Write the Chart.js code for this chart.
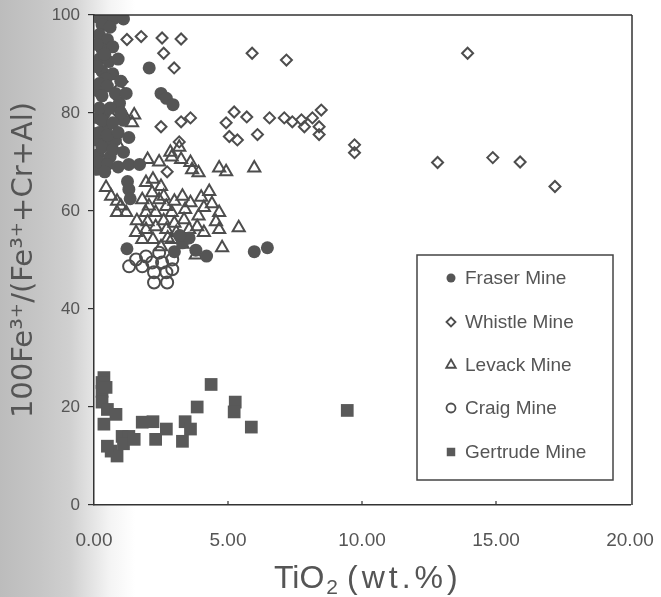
<!DOCTYPE html>
<html>
<head>
<meta charset="utf-8">
<script src="https://cdn.jsdelivr.net/npm/chart.js@4.4.1/dist/chart.umd.min.js"></script>
<style>
  html, body { margin:0; padding:0; }
  body {
    width:661px; height:597px; overflow:hidden;
    background: linear-gradient(90deg, #bcbcbc 0px, #c6c6c6 40px, #d0d0d0 70px, #e2e2e2 90px, #f4f4f4 110px, #ffffff 135px);
  }
  canvas { display:block; }
</style>
</head>
<body>
<canvas id="c" width="661" height="597" style="width:661px;height:597px"></canvas>
<script>
// ---- data (TiO2 wt.%, 100Fe3+/(Fe3++Cr+Al)) ----
const seriesNames = ['Fraser Mine', 'Whistle Mine', 'Levack Mine', 'Craig Mine', 'Gertrude Mine'];
const xTickValues = [0, 5, 10, 15, 20];
const yTickValues = [0, 20, 40, 60, 80, 100];
const xTitleParts = ['TiO', '2', '(wt.%)'];
const yTitle = '100Fe³⁺/(Fe³⁺+Cr+Al)';

const fraser = [
  [0.15,99.5],[0.45,99.5],[0.75,99.3],[1.1,99.2],[0.3,98],[0.6,97.5],
  [0.2,96],[0.5,95],[0.3,93],[0.7,93.5],[0.2,91],[0.55,90.5],[0.9,91],[0.3,88.5],[0.7,88],
  [0.1,94],[0.1,89.5],[0.4,92],[0.45,87],[0.15,84.5],[0.4,80],[0.15,79],[0.45,77],[0.1,74.5],
  [0.45,74],[0.15,71.5],[0.6,71],[0.1,68.5],[0.8,74.5],[0.95,82],[1.1,78.5],
  [0.2,86],[0.5,85.5],[1.0,86.5],[0.3,83.5],[0.8,84],[1.2,84],[0.2,81],[0.6,81],[1.0,80],
  [0.3,78.5],[0.7,78],[0.2,76],[0.5,75.5],[0.9,76],[1.3,75],[0.3,73],[0.7,72.5],[1.1,72],
  [0.2,70],[0.5,69.5],[0.9,69],[1.3,69.5],[1.7,69.5],[0.4,68],
  [2.06,89.2],[2.5,84],[2.7,83],[2.95,81.7],
  [1.25,66],[1.3,64.4],[1.35,62.5],
  [1.23,52.3],[3.0,51.7],[3.3,53.5],[3.8,52],[4.2,50.8],[3.55,54.5],[3.2,55],
  [5.98,51.7],[6.47,52.5]
];
const whistle = [
  [1.23,95],[1.76,95.6],[2.54,95.3],[3.25,95.1],[2.6,92.2],[2.99,89.2],[5.9,92.2],[7.18,90.8],
  [0.93,85],[1.05,86.4],[0.86,83.3],[0.86,80.2],
  [2.5,77.2],[3.25,78.2],[3.6,79],
  [4.93,78],[5.23,80.2],[5.7,79.2],[5.05,75.2],[5.35,74.5],[6.1,75.6],[6.55,79],[7.1,79],
  [7.4,78.2],[7.74,78.6],[7.85,77.2],[8.15,79],[8.48,80.6],[8.4,75.6],[8.4,77.2],
  [2.73,68],[3.18,74.1],
  [13.94,92.2],[9.72,73.5],[9.72,71.9],[12.82,69.9],[14.88,70.9],[15.9,70],[17.2,65]
];
const levack = [
  [1.12,79.6],[1.5,79.6],[1.42,78],[0.1,77.6],[0.2,74.5],[0.5,72],[0.9,73.5],
  [2.43,70],[2.9,71],[2.85,72],[3.18,73],[3.25,70.5],[3.6,69.9],[3.66,68.4],[3.9,67.8],
  [4.67,68.8],[4.93,68],[5.98,68.8],[2.0,70.5],
  [0.45,64.8],[0.64,63],[0.86,62],[0.86,59.7],[1.2,59.7],[1.0,61],
  [1.94,65.8],[1.8,62.3],[2.17,63.7],[2.43,62.3],[1.94,59.7],[2.3,59.7],[2.7,60.9],[2.9,59.7],
  [1.57,55.6],[1.94,56.2],[2.3,56.8],[2.7,56.2],[3.07,55.6],[3.6,61.7],[4.1,60.7],[4.67,59.7],
  [4.55,57.8],[4.67,56.2],[3.85,56.8],[4.1,55.6],[3.55,56.2],[3.36,58.2],[5.4,56.6],[4.78,52.5],
  [3.8,51],[2.5,52.7],[2.9,54.2],[2.2,54.2],[1.8,54.2],[3.3,53.2],[2.6,58],[3.0,57.5],
  [2.2,66.5],[2.5,65],[3.3,63],[3.0,62],[4.3,64],[4.0,62.8],
  [1.6,58],[2.05,61],[2.6,63],[3.4,60.3],[3.9,59],[4.4,61.5],[2.0,57.8],[2.75,54.5]
];
const craig = [
  [1.31,48.7],[1.8,48.7],[1.57,50.1],[2.17,49.5],[2.54,49.5],[2.92,48.1],[2.24,47.5],
  [2.7,47.5],[2.24,45.4],[2.73,45.4],[1.94,50.7],[2.43,51.5],[2.92,50.1]
];
const gertrude = [
  [0.37,26],[0.3,25],[0.3,23.2],[0.45,24],[0.3,21],[0.5,19.5],[0.82,18.5],[0.37,16.5],
  [1.05,14],[1.3,14],[0.64,11],[0.86,10],[0.5,12],[1.1,12.5],[1.5,13.4],[1.8,16.9],[2.2,17],
  [2.3,13.4],[2.7,15.5],[3.4,17],[3.6,15.5],[3.3,13],[3.85,20],[4.37,24.6],[5.27,21],[5.23,19],
  [5.87,15.9],[9.45,19.3]
];

const toXY = arr => arr.map(p => ({x: p[0], y: p[1]}));
const ink = '#4d4d4d';

const datasets = [
  {label: seriesNames[0], data: toXY(fraser), pointStyle: 'circle', pointRadius: 6.5,
   backgroundColor: '#555555', borderColor: '#555555', borderWidth: 0},
  {label: seriesNames[1], data: toXY(whistle), pointStyle: 'rectRot', pointRadius: 5.5,
   backgroundColor: 'rgba(255,255,255,0)', borderColor: ink, borderWidth: 2},
  {label: seriesNames[2], data: toXY(levack), pointStyle: 'triangle', pointRadius: 7,
   backgroundColor: 'rgba(255,255,255,0)', borderColor: ink, borderWidth: 2},
  {label: seriesNames[3], data: toXY(craig), pointStyle: 'circle', pointRadius: 6,
   backgroundColor: 'rgba(255,255,255,0)', borderColor: ink, borderWidth: 2},
  {label: seriesNames[4], data: toXY(gertrude), pointStyle: 'rect', pointRadius: 9,
   backgroundColor: '#595959', borderColor: '#595959', borderWidth: 0}
];

const whiteArea = {
  id: 'whiteArea',
  beforeDraw(chart) {
    const {ctx, chartArea: a} = chart;
    ctx.save();
    ctx.fillStyle = '#ffffff';
    ctx.fillRect(a.left, a.top, a.right - a.left + 2, a.bottom - a.top);
    ctx.restore();
  }
};

const frame = {
  id: 'frame',
  afterDraw(chart) {
    const {ctx, chartArea: a} = chart;
    const xs = chart.scales.x;
    ctx.save();
    ctx.strokeStyle = '#333';
    ctx.lineWidth = 1.5;
    ctx.beginPath();
    ctx.moveTo(a.left, a.top); ctx.lineTo(a.right + 2, a.top);
    ctx.moveTo(a.right + 2, a.top); ctx.lineTo(a.right + 2, a.bottom);
    ctx.stroke();
    ctx.lineWidth = 1.2;
    ctx.beginPath();
    xTickValues.forEach(v => {
      if (v === 0 || v === 20) return;
      const px = xs.getPixelForValue(v);
      ctx.moveTo(px, a.bottom); ctx.lineTo(px, a.bottom - 4);
    });
    ctx.stroke();

    // x-axis title: TiO + subscript 2 + (wt.%)
    ctx.fillStyle = '#555';
    ctx.textBaseline = 'alphabetic';
    ctx.textAlign = 'left';
    const base = 588;
    let x = 274;
    ctx.font = '32px "Liberation Sans", Arial, sans-serif';
    ctx.fillText(xTitleParts[0], x, base);
    x += ctx.measureText(xTitleParts[0]).width + 2;
    ctx.font = '21px "Liberation Sans", Arial, sans-serif';
    ctx.fillText(xTitleParts[1], x, base + 6);
    x += ctx.measureText(xTitleParts[1]).width + 9;
    ctx.font = '32px "Liberation Sans", Arial, sans-serif';
    for (const ch of xTitleParts[2]) {
      ctx.fillText(ch, x, base);
      x += ctx.measureText(ch).width + 4;
    }
    ctx.restore();
  }
};

const boxLegend = {
  id: 'boxLegend',
  afterDatasetsDraw(chart) {
    const {ctx} = chart;
    const left = 417, top = 255, right = 613, bottom = 480;
    ctx.save();
    ctx.fillStyle = '#fff';
    ctx.fillRect(left, top, right - left, bottom - top);
    ctx.strokeStyle = '#444';
    ctx.lineWidth = 1.5;
    ctx.strokeRect(left, top, right - left, bottom - top);
    const rows = [278, 322, 365, 408, 452];
    const sizes = [4.5, 4.5, 5.5, 4.5, 6];
    chart.data.datasets.forEach((ds, i) => {
      ctx.save();
      ctx.fillStyle = ds.backgroundColor;
      ctx.strokeStyle = ds.borderColor;
      ctx.lineWidth = ds.borderWidth ? 1.8 : 0;
      Chart.helpers.drawPoint(ctx, {pointStyle: ds.pointStyle, radius: sizes[i], borderWidth: ds.borderWidth ? 1.8 : 0}, 451, rows[i]);
      ctx.restore();
      ctx.fillStyle = '#555';
      ctx.font = '19px "Liberation Sans", Arial, sans-serif';
      ctx.textBaseline = 'middle';
      ctx.textAlign = 'left';
      ctx.fillText(ds.label, 465, rows[i] + 1);
    });
    ctx.restore();
  }
};

new Chart(document.getElementById('c'), {
  type: 'scatter',
  data: {datasets},
  plugins: [whiteArea, frame, boxLegend],
  options: {
    responsive: false,
    animation: false,
    layout: {padding: {top: 15, right: 31, bottom: 0, left: 0}},
    plugins: {legend: {display: false}, tooltip: {enabled: false}},
    scales: {
      x: {
        type: 'linear', min: 0, max: 20,
        afterBuildTicks(s) { s.ticks = xTickValues.map(v => ({value: v})); },
        ticks: {
          callback: v => Number(v).toFixed(2),
          font: {family: '"Liberation Sans", Arial, sans-serif', size: 19},
          color: '#555', padding: 16, maxRotation: 0, autoSkip: false
        },
        grid: {display: false},
        border: {color: '#333', width: 1.5},
        title: {display: false},
        afterFit(s) { s.height = 92; s.paddingRight = 0; s.paddingLeft = 0; }
      },
      y: {
        min: 0, max: 100,
        afterBuildTicks(s) { s.ticks = yTickValues.map(v => ({value: v})); },
        ticks: {
          font: {family: '"Liberation Sans", Arial, sans-serif', size: 17},
          color: '#555', padding: 8
        },
        grid: {drawOnChartArea: false, tickLength: 6, color: '#333', lineWidth: 1.2},
        border: {color: '#333', width: 1.5},
        title: {
          display: true, text: yTitle,
          font: {family: '"DejaVu Sans", sans-serif', size: 29},
          color: '#555', padding: {top: 7, bottom: 0}
        },
        afterFit(s) { s.width = 94; s.paddingTop = 0; s.paddingBottom = 0; }
      }
    }
  }
});
</script>
</body>
</html>
